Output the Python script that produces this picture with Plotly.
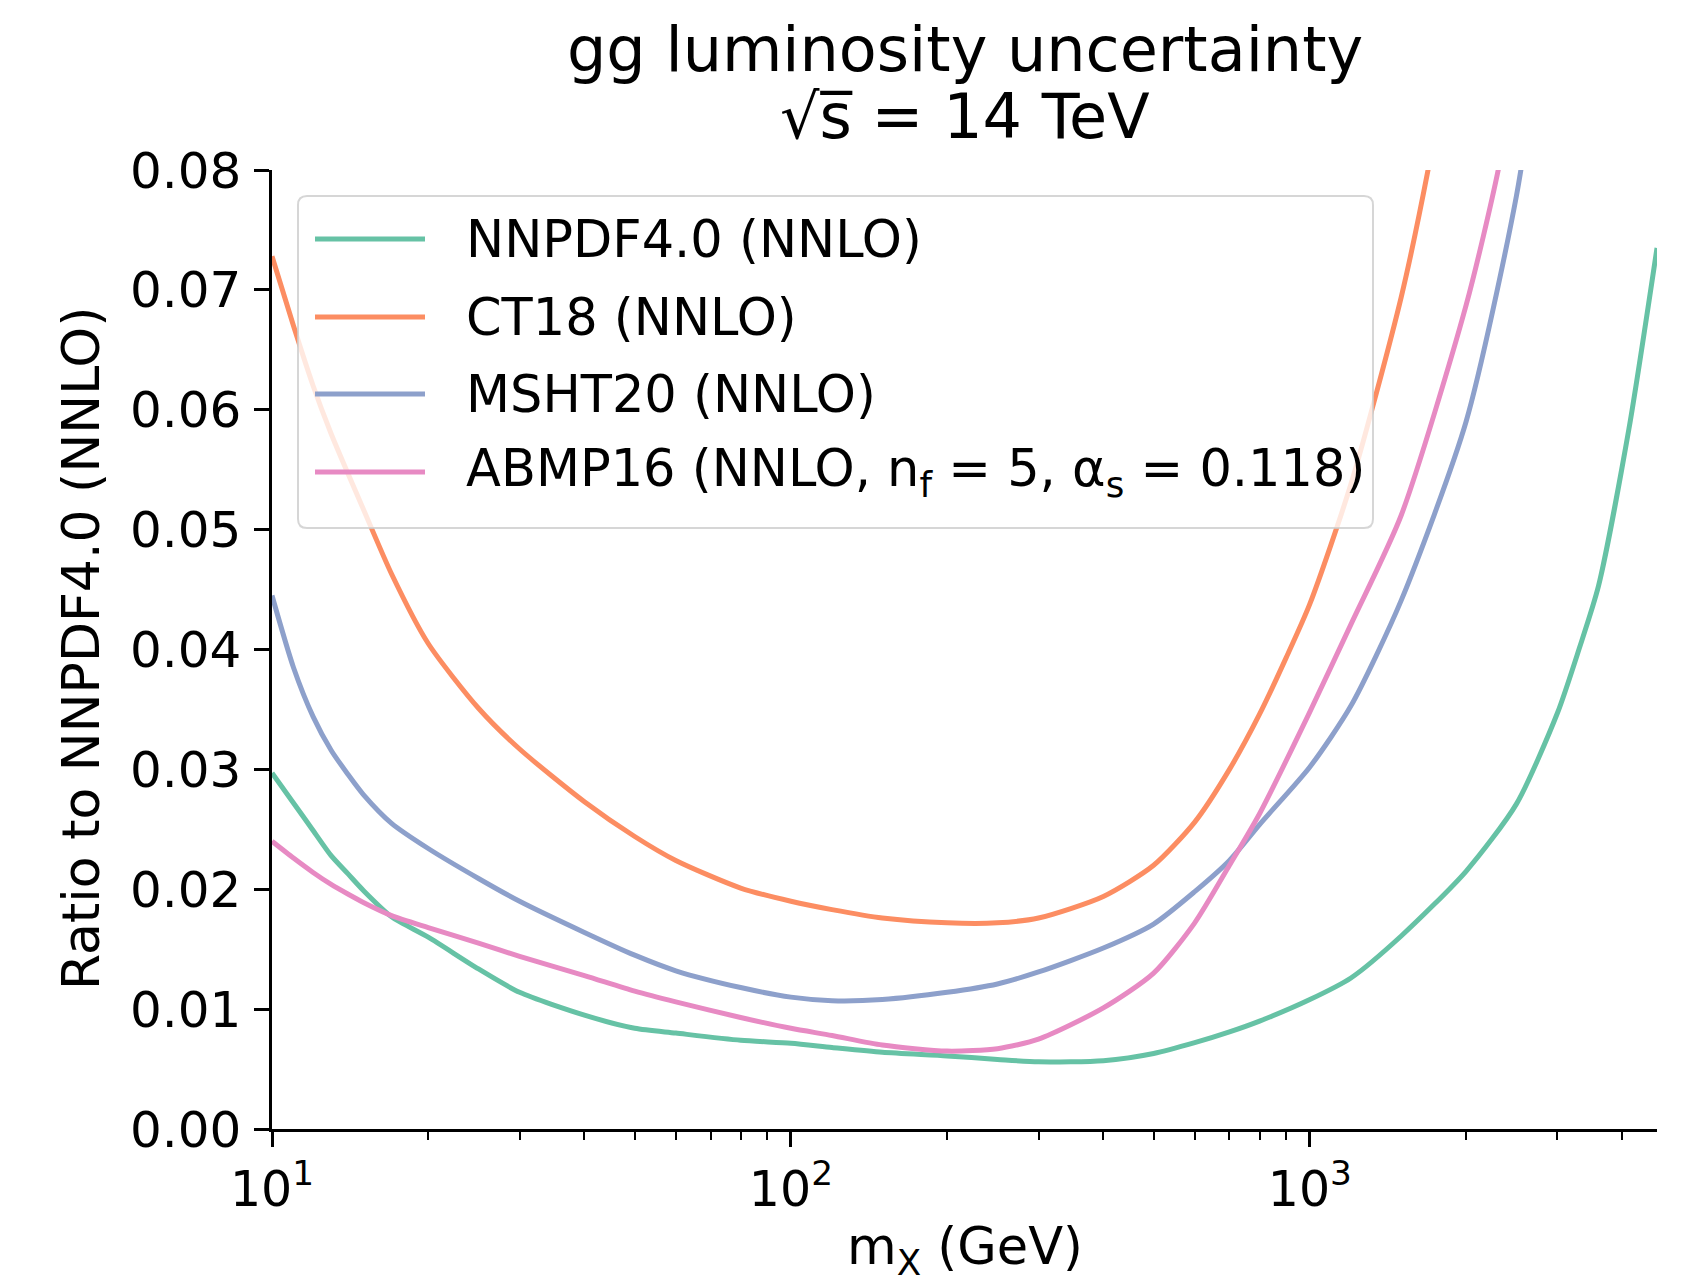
import math
import plotly.graph_objects as go

# ---------------- data ----------------
nnpdf_x = [10, 11, 12, 13, 14, 15, 17, 20, 25, 30, 40, 50, 60, 80, 100, 120, 150, 200,
           250, 300, 400, 500, 600, 700, 800, 1000, 1200, 1500, 2000, 2500, 3000,
           3300, 3600, 4120, 4667]
nnpdf40 = [0.0297, 0.0272, 0.0249, 0.0228, 0.0213, 0.0199, 0.0177, 0.0160, 0.01335,
           0.0114, 0.0095, 0.0084, 0.0080, 0.0074, 0.00715, 0.0068, 0.0064, 0.0061,
           0.0058, 0.0056, 0.0057, 0.0063, 0.0072, 0.0081, 0.0090, 0.0108, 0.0126,
           0.0161, 0.0215, 0.0271, 0.0347, 0.0400, 0.0453, 0.0584, 0.0735]

ct18_x = [10, 11, 12, 13, 14, 15, 17, 20, 25, 30, 40, 50, 60, 80, 100, 120, 150, 200,
          250, 300, 400, 500, 600, 700, 800, 900, 1000, 1200, 1500, 1700, 2000]
ct18 = [0.0728, 0.0670, 0.0620, 0.0580, 0.0547, 0.0517, 0.0463, 0.0405, 0.0351,
        0.0317, 0.0273, 0.0244, 0.0224, 0.0201, 0.0190, 0.0183, 0.0176, 0.0172,
        0.0172, 0.0176, 0.0194, 0.0220, 0.0256, 0.0300, 0.0346, 0.0393, 0.0438,
        0.0538, 0.0694, 0.0806, 0.0980]

msht_x = [10, 11, 12, 13, 14, 15, 17, 20, 25, 30, 40, 50, 60, 80, 100, 120, 150, 200,
          250, 300, 400, 500, 600, 700, 800, 1000, 1200, 1500, 2000, 2500, 2800]
msht20 = [0.0445, 0.0385, 0.0344, 0.0316, 0.0296, 0.0279, 0.0255, 0.0234, 0.0209,
          0.0190, 0.0164, 0.0145, 0.0132, 0.0118, 0.0110, 0.0107, 0.0108, 0.0114,
          0.0121, 0.0131, 0.0151, 0.0171, 0.0198, 0.0224, 0.0254, 0.0302, 0.0353,
          0.0441, 0.0590, 0.0778, 0.0920]

abmp_x = [10, 11, 12, 13, 14, 15, 17, 20, 25, 30, 40, 50, 60, 80, 100, 120, 150, 200,
          250, 300, 400, 500, 600, 700, 800, 1000, 1200, 1500, 2000, 2312, 2600]
abmp16 = [0.0240, 0.0226, 0.0214, 0.0204, 0.0196, 0.0189, 0.0178, 0.0168, 0.0155,
          0.0144, 0.0128, 0.0115, 0.0106, 0.0093, 0.0084, 0.0078, 0.0070, 0.0065,
          0.0067, 0.0075, 0.0101, 0.0130, 0.0172, 0.0220, 0.0263, 0.0348, 0.0421,
          0.0512, 0.0687, 0.0802, 0.0930]

names = ["NNPDF4.0 (NNLO)", "CT18 (NNLO)", "MSHT20 (NNLO)",
         "ABMP16 (NNLO, n<sub>f</sub> = 5, α<sub>s</sub> = 0.118)"]
colors = ["#66c2a5", "#fc8d62", "#8da0cb", "#e78ac3"]

y_ticks = [0.00, 0.01, 0.02, 0.03, 0.04, 0.05, 0.06, 0.07, 0.08]
x_major = [10, 100, 1000]
x_major_text = ["10<sup>1</sup>", "10<sup>2</sup>", "10<sup>3</sup>"]
x_minor = [20, 30, 40, 50, 60, 70, 80, 90, 200, 300, 400, 500, 600, 700, 800, 900,
           2000, 3000, 4000]
x_range = [10, 14000 / 3]

# ---------------- figure ----------------
W, H = 1701, 1280
L, R, T, B = 272, 1657, 170, 1129
FONT = "DejaVu Sans"


def px(x):
    return (x - L) / (R - L)


def py(y):
    return (B - y) / (B - T)


fig = go.Figure()
series = [(nnpdf_x, nnpdf40), (ct18_x, ct18), (msht_x, msht20), (abmp_x, abmp16)]
for (xs, ys), n, c in zip(series, names, colors):
    fig.add_trace(go.Scatter(x=xs, y=ys, mode="lines", name=n,
                             line=dict(color=c, width=5, shape="spline",
                                       smoothing=0.7),
                             showlegend=False))

fig.update_layout(
    width=W, height=H,
    margin=dict(l=L, r=W - R, t=T, b=H - B, pad=0),
    paper_bgcolor="white", plot_bgcolor="white",
    font=dict(family=FONT, color="black", size=48),
    xaxis=dict(type="log", range=[math.log10(x_range[0]), math.log10(x_range[1])],
               showgrid=False, zeroline=False, showline=True, linecolor="black",
               linewidth=2.5, ticks="outside", ticklen=15, tickwidth=2.5,
               tickcolor="black", tickmode="array", tickvals=x_major,
               ticktext=x_major_text, tickfont=dict(size=49, family=FONT),
               minor=dict(ticks="outside", ticklen=8, tickwidth=2,
                          tickcolor="black", tickmode="array", tickvals=x_minor,
                          showgrid=False),
               mirror=False),
    yaxis=dict(range=[0, 0.08], showgrid=False, zeroline=False, showline=True,
               linecolor="black", linewidth=2.5, ticks="outside", ticklen=15,
               tickwidth=2.5, tickcolor="black", tickmode="array",
               tickvals=y_ticks, tickformat=".2f",
               tickfont=dict(size=50, family=FONT), ticklabelstandoff=3,
               mirror=False),
    showlegend=False,
)

# titles
fig.add_annotation(text="gg luminosity uncertainty", x=0.5, y=py(49),
                   xref="paper", yref="paper", showarrow=False,
                   font=dict(size=62, family=FONT), xanchor="center", yanchor="middle")
fig.add_annotation(text="√s\u0305 = 14 TeV",
                   x=0.5, y=py(117), xref="paper", yref="paper", showarrow=False,
                   font=dict(size=62, family=FONT), xanchor="center", yanchor="middle")
fig.add_annotation(text="Ratio to NNPDF4.0 (NNLO)", x=px(81), y=py(648),
                   xref="paper", yref="paper", showarrow=False, textangle=-90,
                   font=dict(size=52, family=FONT), xanchor="center", yanchor="middle")
fig.add_annotation(text="m<sub>X</sub> (GeV)", x=0.5, y=py(1250),
                   xref="paper", yref="paper", showarrow=False,
                   font=dict(size=51, family=FONT), xanchor="center", yanchor="middle")

# legend box (custom, matplotlib style)
bx0, bx1, by0, by1, r = 298, 1373, 196, 528, 9


def path_rounded(x0, y0, x1, y1, r):
    rx = r / (R - L)
    ry = r / (B - T)
    X0, X1, Y0, Y1 = px(x0), px(x1), py(y1), py(y0)
    return (f"M{X0 + rx},{Y0} L{X1 - rx},{Y0} Q{X1},{Y0} {X1},{Y0 + ry} "
            f"L{X1},{Y1 - ry} Q{X1},{Y1} {X1 - rx},{Y1} L{X0 + rx},{Y1} "
            f"Q{X0},{Y1} {X0},{Y1 - ry} L{X0},{Y0 + ry} Q{X0},{Y0} {X0 + rx},{Y0} Z")


fig.add_shape(type="path", path=path_rounded(bx0, by0, bx1, by1, r),
              xref="paper", yref="paper", layer="above",
              fillcolor="rgba(255,255,255,0.8)",
              line=dict(color="rgba(204,204,204,0.8)", width=2))
rows = [239, 317, 394, 472]
for yy, n, c in zip(rows, names, colors):
    fig.add_shape(type="line", x0=px(315), x1=px(425), y0=py(yy), y1=py(yy),
                  xref="paper", yref="paper", layer="above",
                  line=dict(color=c, width=5))
    fig.add_annotation(text=n, x=px(464), y=py(yy), xref="paper", yref="paper",
                       showarrow=False, xanchor="left", yanchor="middle",
                       font=dict(size=51, family=FONT))

fig.write_html("out.html")
